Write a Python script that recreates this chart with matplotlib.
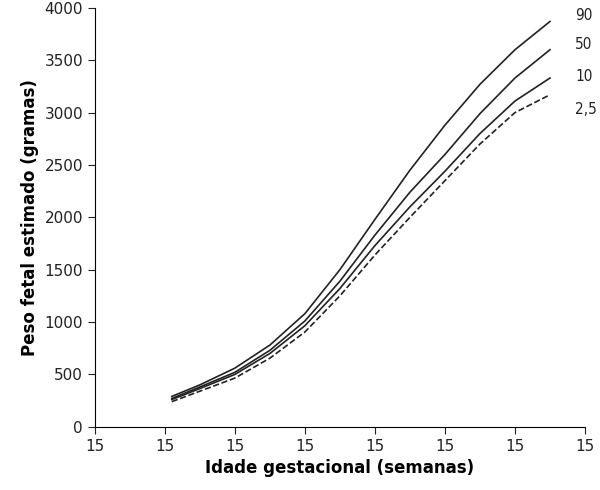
import matplotlib
matplotlib.use("Agg")
import matplotlib.pyplot as plt

weeks = [20.5, 22.5, 25, 27.5, 30, 32.5, 35, 37.5, 40, 42.5, 45, 47.5]
p90 = [290, 400, 560, 780, 1080, 1500, 1980, 2450, 2880, 3270, 3600, 3870]
p50 = [270, 380, 520, 730, 1010, 1390, 1830, 2240, 2600, 2990, 3330, 3600]
p10 = [260, 365, 500, 700, 965, 1320, 1730, 2100, 2440, 2800, 3110, 3330]
p2_5 = [240, 340, 465, 655, 905, 1250, 1640, 2000, 2350, 2700, 3000, 3170]
labels = ["90", "50", "10", "2,5"]
label_offsets = [60, 50, 10, -140]
xticks = [15, 20, 25, 30, 35, 40, 45, 50]
xticklabels = ["15"] * 8
yticks = list(range(0, 4001, 500))

plt.rcParams['font.family'] = ['DejaVu Sans']
fig = plt.figure(figsize=(6, 4.9), dpi=100)
ax = fig.add_axes([0.158, 0.129, 0.817, 0.855])
for s, ls in zip([p90, p50, p10, p2_5], ['-', '-', '-', '--']):
    ax.plot(weeks, s, color='#222222', lw=1.2, ls=ls)
for s, lab, off in zip([p90, p50, p10, p2_5], labels, label_offsets):
    ax.text(weeks[-1] + 1.8, s[-1] + off, lab, fontsize=11, color='#222222',
            va='center', ha='left', fontstretch='condensed')
ax.set_xlim(15, 50)
ax.set_ylim(0, 4000)
ax.set_xticks(xticks)
ax.set_xticklabels(xticklabels)
ax.set_yticks(yticks)
ax.tick_params(labelsize=11, colors='#222222', direction='out', length=5)
for sp in ['top', 'right']:
    ax.spines[sp].set_visible(False)
ax.set_xlabel('Idade gestacional (semanas)', fontsize=12, fontweight='bold')
ax.set_ylabel('Peso fetal estimado (gramas)', fontsize=12, fontweight='bold')
fig.savefig('out.png', dpi=100)
